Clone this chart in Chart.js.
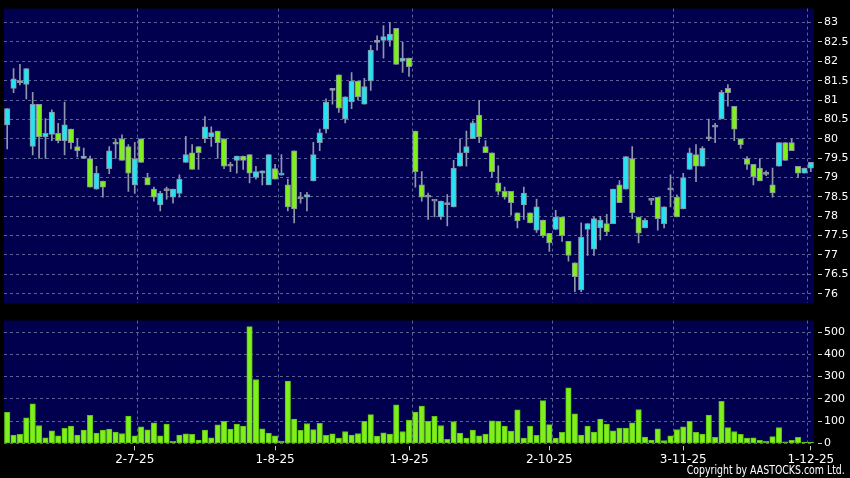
<!DOCTYPE html>
<html><head><meta charset="utf-8">
<script src="https://cdn.jsdelivr.net/npm/chart.js@4.4.1/dist/chart.umd.min.js"></script>
<style>
html,body{margin:0;padding:0;background:#000;}
#wrap{position:relative;width:850px;height:478px;background:#000;overflow:hidden;}
#c1{position:absolute;left:0;top:0;}
#c2{position:absolute;left:0;top:312px;}
#copy{position:absolute;right:5px;top:463px;color:#fff;font:12px "DejaVu Sans Condensed","DejaVu Sans",sans-serif;line-height:normal;white-space:nowrap;transform-origin:right center;}
</style></head><body>
<div id="wrap">
<canvas id="c1" width="850" height="312"></canvas>
<canvas id="c2" width="850" height="166"></canvas>
<div id="copy">Copyright by AASTOCKS.com Ltd.</div>
</div>
<script>
const dates = [
"3-6-25","4-6-25","5-6-25","6-6-25","9-6-25","10-6-25","11-6-25","12-6-25","13-6-25","16-6-25","17-6-25","18-6-25","19-6-25","20-6-25","23-6-25","24-6-25","25-6-25","26-6-25","27-6-25","30-6-25",
"2-7-25","3-7-25","4-7-25","7-7-25","8-7-25","9-7-25","10-7-25","11-7-25","14-7-25","15-7-25","16-7-25","17-7-25","18-7-25","21-7-25","22-7-25","23-7-25","24-7-25","25-7-25","28-7-25","29-7-25","30-7-25","31-7-25",
"1-8-25","4-8-25","5-8-25","6-8-25","7-8-25","8-8-25","11-8-25","12-8-25","13-8-25","14-8-25","15-8-25","18-8-25","19-8-25","20-8-25","21-8-25","22-8-25","25-8-25","26-8-25","27-8-25","28-8-25","29-8-25",
"1-9-25","2-9-25","3-9-25","4-9-25","5-9-25","8-9-25","9-9-25","10-9-25","11-9-25","12-9-25","15-9-25","16-9-25","17-9-25","18-9-25","19-9-25","22-9-25","23-9-25","24-9-25","25-9-25","26-9-25","29-9-25","30-9-25",
"2-10-25","3-10-25","6-10-25","7-10-25","8-10-25","9-10-25","10-10-25","13-10-25","14-10-25","15-10-25","16-10-25","17-10-25","20-10-25","21-10-25","22-10-25","23-10-25","24-10-25","27-10-25","28-10-25","30-10-25","31-10-25",
"3-11-25","4-11-25","5-11-25","6-11-25","7-11-25","10-11-25","11-11-25","12-11-25","13-11-25","14-11-25","17-11-25","18-11-25","19-11-25","20-11-25","21-11-25","24-11-25","25-11-25","26-11-25","27-11-25","28-11-25",
"1-12-25"];

const opens = [80.36,81.30,81.45,81.40,79.80,80.89,80.05,80.11,80.14,79.95,
80.25,79.80,79.49,79.49,78.70,78.91,79.23,79.88,80.00,79.80,
78.81,80.00,79.00,78.70,78.29,78.66,78.49,78.59,79.39,79.64,
79.80,80.00,80.05,80.20,80.00,79.29,79.44,79.55,79.59,79.00,
79.11,78.81,79.23,79.06,78.81,79.69,78.45,78.49,78.91,79.90,
80.25,81.25,81.65,80.51,80.95,81.49,80.89,81.49,82.49,82.54,
82.54,82.85,82.00,82.08,80.20,78.81,78.49,78.39,77.98,78.30,
78.24,79.29,79.64,80.00,80.61,79.80,79.64,78.86,78.64,78.64,
78.09,78.29,78.09,77.64,77.90,77.56,77.66,77.98,77.35,76.80,
76.10,77.66,77.15,77.70,77.81,77.81,78.81,78.70,79.49,77.98,
77.70,78.41,78.49,77.81,78.68,78.49,78.19,79.21,79.59,79.29,
80.00,80.30,80.51,81.30,80.84,80.00,79.49,79.34,79.24,79.08,
78.81,79.29,79.90,79.90,79.29,79.11,79.24];

const highs = [80.78,81.81,81.92,81.81,81.20,80.89,80.52,80.75,80.40,80.95,
80.25,80.00,79.76,79.55,79.29,78.91,79.80,80.00,80.10,79.85,
79.91,80.00,79.11,78.75,78.64,78.75,78.70,79.07,80.06,79.85,
79.80,80.57,80.31,80.20,80.00,79.39,79.55,79.55,79.59,79.29,
79.17,79.59,79.34,79.59,78.96,79.69,78.62,78.62,79.91,80.25,
81.03,81.30,81.65,81.08,81.71,81.49,81.56,82.41,82.66,82.92,
83.00,82.85,82.49,82.08,80.20,79.15,78.60,78.39,78.39,78.56,
79.44,80.00,80.20,80.46,80.99,79.95,79.64,79.30,78.75,78.64,
78.09,78.75,78.09,78.44,77.90,77.56,78.15,77.98,77.35,76.80,
77.83,77.81,77.98,78.00,78.05,78.70,78.92,79.54,79.80,77.98,
77.94,78.42,78.49,78.24,79.07,78.55,79.11,79.76,79.85,79.80,
80.51,80.40,81.25,81.40,80.84,80.00,79.54,79.34,79.49,79.17,
79.24,79.90,79.90,80.00,79.29,79.24,79.39];

const lows = [79.74,81.19,81.39,81.03,79.58,79.49,79.49,79.95,79.89,79.58,
79.74,79.53,79.49,78.75,78.70,78.49,79.10,79.49,79.44,78.64,
78.59,79.39,78.81,78.39,78.14,78.44,78.34,78.49,79.39,79.21,
79.21,79.90,79.80,79.49,79.23,79.15,79.11,79.21,78.86,78.96,
78.81,78.81,78.96,79.06,78.14,77.83,78.34,78.14,78.91,79.69,
80.15,80.89,80.68,80.41,80.78,81.00,80.89,81.25,82.29,82.08,
82.39,81.92,81.71,81.61,78.75,78.39,77.92,77.98,77.92,77.75,
78.24,79.29,79.29,80.00,79.90,79.64,79.00,78.55,78.44,78.03,
77.70,77.92,77.83,77.58,77.45,77.09,77.66,77.35,76.84,76.05,
76.05,76.99,76.99,77.39,77.50,77.81,78.35,78.70,77.94,77.31,
77.70,78.30,77.64,77.70,78.24,77.98,78.19,79.21,78.89,79.29,
79.95,79.90,80.51,80.84,79.95,79.75,79.21,78.81,78.91,79.05,
78.49,79.29,79.44,79.69,79.00,79.11,79.15];

const closes = [80.78,81.55,81.50,81.81,80.89,80.05,80.14,80.69,79.95,80.36,
79.90,79.69,79.55,78.75,79.11,78.75,79.69,79.86,79.44,79.11,
79.49,79.39,78.81,78.49,78.59,78.66,78.70,78.96,79.59,79.21,
79.64,80.31,80.16,79.90,79.29,79.29,79.55,79.44,79.11,79.15,
79.17,79.59,78.96,79.11,78.24,78.19,78.45,78.56,79.59,80.15,
80.95,81.30,80.79,81.08,81.49,81.08,81.35,82.29,82.54,82.64,
82.70,81.92,82.08,81.86,79.15,78.49,78.49,78.39,78.39,78.30,
79.24,79.64,79.80,80.41,80.05,79.64,79.15,78.64,78.49,78.35,
77.88,78.60,77.83,78.24,77.50,77.31,77.98,77.50,76.99,76.44,
77.46,77.81,77.94,77.90,77.60,78.70,78.35,79.54,78.09,77.56,
77.90,78.41,77.94,78.24,78.68,77.98,79.00,79.64,79.29,79.75,
80.00,80.30,81.20,81.19,80.25,79.85,79.34,79.02,78.91,79.08,
78.60,79.90,79.44,79.69,79.11,79.24,79.39];

const volumes = [139,37,40,115,178,80,25,56,34,67,
77,37,59,126,46,59,64,50,44,123,
34,74,61,92,34,87,9,37,43,40,
15,59,25,83,99,64,86,78,525,287,
65,46,34,10,280,109,58,89,62,90,
36,43,24,53,37,44,99,129,33,47,
41,173,53,104,140,167,99,121,80,18,
98,46,24,59,34,41,101,99,77,55,
151,24,78,36,192,84,24,49,250,133,
37,77,50,109,86,56,68,68,92,152,
28,15,65,12,34,62,74,99,49,41,
127,27,189,71,53,40,24,25,13,9,
30,71,7,13,27,6,6];

const tickDates = ["2-7-25","1-8-25","1-9-25","2-10-25","3-11-25","1-12-25"];
// vertical grid lines sit on the boundary after these sessions
const gridAfterDates = ["2-7-25","1-8-25","1-9-25","2-10-25","30-10-25","28-11-25"];
const priceTicks = [76,76.5,77,77.5,78,78.5,79,79.5,80,80.5,81,81.5,82,82.5,83];
const volumeTicks = [0,100,200,300,400,500];

const NAVY = '#00004f';
const GRID = '#5a6498';
const CYAN = '#27e3f2';
const GREEN = '#7ff01c';
const WICK = '#8e97aa';
const FONT = "'DejaVu Sans', sans-serif";

const tickIdx = tickDates.map(d => dates.indexOf(d));
const gridIdx = gridAfterDates.map(d => dates.indexOf(d) + 0.5);

const navyBg = {
  id: 'navyBg',
  beforeDraw(chart) {
    const a = chart.chartArea, ctx = chart.ctx;
    ctx.save();
    ctx.fillStyle = NAVY;
    ctx.fillRect(a.left, a.top, a.right - a.left, a.bottom - a.top);
    ctx.restore();
  }
};

function xLabelScale(showLabels) {
  return {
    type: 'category',
    offset: true,
    display: showLabels,
    afterBuildTicks: s => { s.ticks = tickIdx.map(v => ({ value: v })); },
    afterFit: s => { s.height = showLabels ? 34.7 : 0; },
    border: { display: false },
    grid: {
      offset: false,
      drawOnChartArea: false,
      drawTicks: true,
      tickLength: 7,
      tickColor: '#c8c8c8',
      tickBorderDash: [0, 3, 4],
      tickWidth: 1
    },
    ticks: {
      autoSkip: false,
      maxRotation: 0,
      minRotation: 0,
      color: '#ffffff',
      font: { family: FONT, size: 12 },
      padding: 2,
      callback: v => dates[v]
    }
  };
}

// same mapping as the category axis (index i at the centre of slot i)
function xGridScale() {
  return {
    type: 'linear',
    position: 'bottom',
    offset: false,
    min: -0.5,
    max: dates.length - 0.5,
    afterBuildTicks: s => { s.ticks = gridIdx.map(v => ({ value: v })); },
    afterFit: s => { s.height = 0; },
    border: { display: false, dash: [3, 3] },
    grid: { offset: false, color: GRID, drawTicks: false },
    ticks: { display: false }
  };
}

function yScale(min, max, ticksArr) {
  return {
    type: 'linear',
    position: 'right',
    min: min,
    max: max,
    afterBuildTicks: s => { s.ticks = ticksArr.map(v => ({ value: v })); },
    afterFit: s => { s.width = 36; },
    border: { display: false, dash: [3, 3] },
    grid: {
      color: GRID,
      drawTicks: true,
      tickLength: 8,
      tickColor: '#c8c8c8',
      tickBorderDash: [0, 4, 4],
      tickWidth: 1
    },
    ticks: {
      color: '#ffffff',
      font: { family: FONT, size: 11 },
      padding: 2,
      callback: v => String(v)
    }
  };
}

const bodyColors = opens.map((o, i) => closes[i] > o ? CYAN : (closes[i] < o ? GREEN : WICK));

new Chart(document.getElementById('c1'), {
  type: 'bar',
  data: {
    labels: dates,
    datasets: [
      {
        label: 'body',
        data: opens.map((o, i) => [o, closes[i]]),
        backgroundColor: bodyColors,
        borderColor: '#8a92a2',
        borderWidth: 1,
        borderSkipped: false,
        barThickness: 5.5,
        minBarLength: 2,
        grouped: false,
        order: 1,
        xAxisID: 'x', yAxisID: 'y'
      },
      {
        label: 'wick',
        data: lows.map((l, i) => [l, highs[i]]),
        backgroundColor: WICK,
        borderWidth: 0,
        barThickness: 1,
        grouped: false,
        order: 2,
        xAxisID: 'x', yAxisID: 'y'
      }
    ]
  },
  options: {
    responsive: false,
    animation: false,
    devicePixelRatio: 1,
    layout: { padding: { left: 4, top: 6, right: 0, bottom: 7 } },
    plugins: { legend: { display: false }, tooltip: { enabled: false } },
    scales: { x: xLabelScale(false), xg: xGridScale(), y: yScale(75.75, 83.36, priceTicks) }
  },
  plugins: [navyBg]
});

new Chart(document.getElementById('c2'), {
  type: 'bar',
  data: {
    labels: dates,
    datasets: [{
      label: 'volume',
      data: volumes,
      backgroundColor: GREEN,
      borderColor: '#5fbf14',
      borderWidth: 1,
      borderSkipped: false,
      barThickness: 5.5,
      xAxisID: 'x', yAxisID: 'y'
    }]
  },
  options: {
    responsive: false,
    animation: false,
    devicePixelRatio: 1,
    layout: { padding: { left: 4, top: 7.3, right: 0, bottom: 0 } },
    plugins: { legend: { display: false }, tooltip: { enabled: false } },
    scales: { x: xLabelScale(true), xg: xGridScale(), y: yScale(0, 552, volumeTicks) }
  },
  plugins: [navyBg]
});

const cp = document.getElementById('copy');
const cw = cp.getBoundingClientRect().width;
if (cw > 0) cp.style.transform = 'scaleX(' + (158 / cw) + ')';
</script>
</body></html>
